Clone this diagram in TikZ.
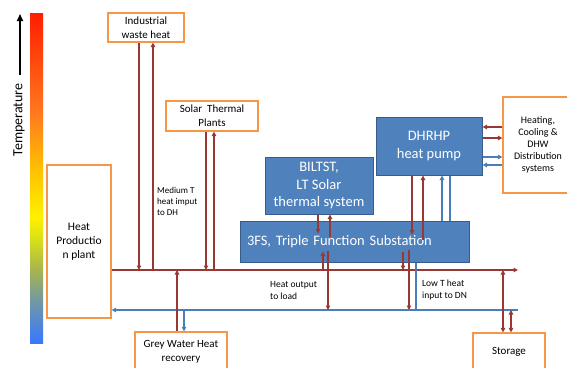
\documentclass[tikz,border=0pt]{standalone}
\usepackage{fontspec}
\setmainfont{Carlito}
\usetikzlibrary{arrows.meta}
\definecolor{pipered}{HTML}{993734}
\definecolor{pipeblue}{HTML}{4A7EBB}
\definecolor{boxorange}{HTML}{F79646}
\definecolor{unitblue}{HTML}{4F81BD}
\definecolor{unitedge}{HTML}{385D8A}
\definecolor{tbA}{RGB}{55,120,255}
\definecolor{tbB}{RGB}{110,150,170}
\definecolor{tbC}{RGB}{165,180,80}
\definecolor{tbD}{RGB}{220,225,20}
\definecolor{tbE}{RGB}{255,240,0}
\definecolor{tbF}{RGB}{255,195,0}
\definecolor{tbG}{RGB}{255,120,30}
\definecolor{tbH}{RGB}{255,30,0}
\pgfdeclareverticalshading{tempbar}{100bp}{color(0bp)=(tbA); color(25bp)=(tbA);
  color(31bp)=(tbB); color(36bp)=(tbC); color(41bp)=(tbD); color(44bp)=(tbE);
  color(51bp)=(tbF); color(60bp)=(tbG); color(75bp)=(tbH); color(100bp)=(tbH)}
\tikzset{
  source/.style={draw=boxorange, line width=1.2pt, fill=white, align=center,
    inner sep=1pt, font=\fontsize{11}{14}\selectfont},
  unit/.style={draw=unitedge, line width=1pt, fill=unitblue, text=white,
    align=center, inner sep=1pt, font=\fontsize{14.5}{17.5}\selectfont},
  warm/.style={draw=pipered, line width=1.4pt},
  cold/.style={draw=pipeblue, line width=1.4pt},
  note/.style={align=left, inner sep=0pt, font=\fontsize{9}{11}\selectfont},
  >={Triangle[length=4.5pt,width=4.5pt]}
}
\begin{document}
\begin{tikzpicture}[x=1pt,y=-1pt]
  \clip (0,0) rectangle (567,367);
  \shade[shading=tempbar] (30,13) rectangle (43,343);
  \draw[line width=1.6pt,-{Triangle[length=7pt,width=6pt]}] (20,75) -- (20,14);
  \node[rotate=90, font=\fontsize{14}{16}\selectfont] (templabel) at (19,120) {Temperature};

  \node[source, minimum width=76pt, minimum height=29pt] (ind) at (146,27.5) {Industrial\\waste heat};
  \node[source, minimum width=92pt, minimum height=30pt] (solar) at (212,116) {Solar\ \ Thermal\\Plants};
  \node[source, minimum width=64pt, minimum height=153pt, font=\fontsize{11.5}{14}\selectfont]
    (plant) at (79,241.5) {Heat\\Productio\\n plant};
  \node[source, minimum width=92pt, minimum height=40pt] (grey) at (181,352) {Grey Water Heat\\recovery};
  \node[source, minimum width=72pt, minimum height=37pt] (storage) at (509,351.5) {Storage};
  \node[source, minimum width=70pt, minimum height=96pt, font=\fontsize{10}{12}\selectfont]
    (dist) at (538,145) {Heating,\\Cooling \&\\DHW\\Distribution\\systems};

  \node[unit, minimum width=106pt, minimum height=58pt] (dhrhp) at (429,146) {DHRHP\\heat pump};
  \node[unit, minimum width=108pt, minimum height=57pt] (biltst) at (319,185.5) {BILTST,\\LT Solar\\thermal system};
  \node[unit, text width=215pt, inner xsep=7pt, align=left, minimum height=41pt]
    (fs) at (354.5,241.5) {3FS, Triple Function Substation};

  \node[note, anchor=west] (medT) at (157,201) {Medium T\\heat imput\\to DH};
  \node[note, anchor=west, font=\fontsize{9.5}{12}\selectfont] (loadnote) at (270,290) {Heat output\\to load};
  \node[note, anchor=west, font=\fontsize{9.5}{12}\selectfont] (lowT) at (422,290) {Low T heat\\input to DN};

  \coordinate (warmend) at (518,270);
  \coordinate (coldend) at (518,310);
  \draw[warm,->] (plant.east |- warmend) -- (warmend);
  \draw[cold,->] (coldend) -- (plant.east |- coldend);

  \draw[warm,->] ([xshift=-7pt]ind.south) -- ([xshift=-7pt]ind.south |- warmend);
  \draw[warm,->] ([xshift=7pt]ind.south |- warmend) -- ([xshift=7pt]ind.south);
  \draw[warm,->] ([xshift=-6pt]solar.south) -- ([xshift=-6pt]solar.south |- warmend);
  \draw[warm,->] ([xshift=2pt]solar.south |- warmend) -- ([xshift=2pt]solar.south);
  \draw[warm,->] ([xshift=-4pt]grey.north) -- ([xshift=-4pt]grey.north |- warmend);
  \draw[cold,->] ([xshift=3pt]grey.north |- coldend) -- ([xshift=3pt]grey.north);

  \draw[warm,->] ([xshift=-1pt]biltst.south) -- ([xshift=-1pt,yshift=-13pt]biltst.south |- fs.north);
  \draw[warm,->] ([xshift=11pt,yshift=-16pt]biltst.south |- fs.north) -- ([xshift=11pt]biltst.south);
  \draw[warm,->] ([xshift=-17pt]dhrhp.south) -- ([xshift=-17pt,yshift=-14pt]dhrhp.south |- fs.north);
  \draw[warm,->] ([xshift=-6pt,yshift=-19pt]dhrhp.south |- fs.north) -- ([xshift=-6pt]dhrhp.south);
  \draw[cold,->] ([xshift=13pt]dhrhp.south |- fs.north) -- ([xshift=13pt]dhrhp.south);
  \draw[cold] ([xshift=21pt]dhrhp.south) -- ([xshift=21pt]dhrhp.south |- fs.north);

  \draw[warm,->] ([xshift=-31.5pt]fs.south |- warmend) -- ([xshift=-31.5pt,yshift=11pt]fs.south);
  \draw[warm,->] ([xshift=-26.5pt,yshift=12pt]fs.south) -- ([xshift=-26.5pt]fs.south |- coldend);
  \draw[warm,->] ([xshift=48.5pt,yshift=11pt]fs.south) -- ([xshift=48.5pt]fs.south |- warmend);
  \draw[warm,->] ([xshift=54.5pt,yshift=13pt]fs.south) -- ([xshift=54.5pt]fs.south |- coldend);
  \draw[cold] ([xshift=61.5pt]fs.south) -- ([xshift=61.5pt]fs.south |- coldend);

  \draw[warm,<->] ([xshift=-6pt]storage.north |- warmend) -- ([xshift=-6pt]storage.north);
  \draw[warm,<->] ([xshift=2pt]storage.north |- coldend) -- ([xshift=2pt]storage.north);

  \draw[warm,->] ([yshift=19pt]dist.west |- dhrhp.east) -- ([yshift=19pt]dhrhp.east);
  \draw[warm,->] ([yshift=8pt]dhrhp.east) -- ([yshift=8pt]dist.west |- dhrhp.east);
  \draw[cold,->] ([yshift=-11pt]dhrhp.east) -- ([yshift=-11pt]dist.west |- dhrhp.east);
  \draw[cold,->] ([yshift=-19pt]dist.west |- dhrhp.east) -- ([yshift=-19pt]dhrhp.east);
\end{tikzpicture}
\end{document}
